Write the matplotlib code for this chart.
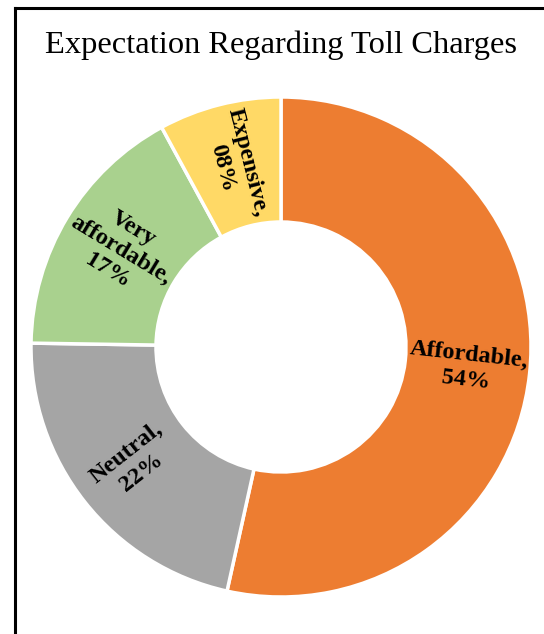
import matplotlib
matplotlib.use("Agg")
import matplotlib.pyplot as plt
from matplotlib.lines import Line2D
import numpy as np

categories = ["Affordable", "Neutral", "Very\naffordable", "Expensive"]
values = [54, 22, 17, 8]
value_labels = ["54%", "22%", "17%", "08%"]
colors = ["#ED7D31", "#A5A5A5", "#A9D18E", "#FFD966"]

W, H = 544, 634
fig = plt.figure(figsize=(W / 100, H / 100), dpi=100)

cx, cy, R = 281, 347, 250
ax = fig.add_axes([(cx - R) / W, (H - cy - R) / H, 2 * R / W, 2 * R / H])
wedges, _ = ax.pie(values, colors=colors, startangle=90, counterclock=False,
                   radius=1.0, wedgeprops=dict(width=0.5, edgecolor="white", linewidth=2.5))
ax.set_xlim(-1, 1)
ax.set_ylim(-1, 1)
ax.set_aspect("equal")
ax.axis("off")

for w, cat, vl in zip(wedges, categories, value_labels):
    mid = np.deg2rad((w.theta1 + w.theta2) / 2)
    r = 0.75
    x, y = r * np.cos(mid), r * np.sin(mid)
    rot = np.rad2deg(mid)
    rot = (rot + 180) % 360 - 180
    if rot > 90:
        rot -= 180
    elif rot < -90:
        rot += 180
    ax.text(x, y, f"{cat},\n{vl}", ha="center", va="center", rotation=rot,
            rotation_mode="anchor", fontsize=17.5, fontweight="bold",
            family="Liberation Serif", linespacing=1.25)

fig.text(281 / W, 1 - 53 / H, "Expectation Regarding Toll Charges", ha="center",
         va="baseline", fontsize=23.4, family="Liberation Serif")

fig.add_artist(Line2D([14.5 / W, 14.5 / W], [0, 1 - 7.5 / H], transform=fig.transFigure,
                      color="black", linewidth=2.2, solid_capstyle="projecting"))
fig.add_artist(Line2D([14.5 / W, 1], [1 - 7.5 / H, 1 - 7.5 / H], transform=fig.transFigure,
                      color="black", linewidth=2.2, solid_capstyle="projecting"))

fig.savefig("out.png", dpi=100)
